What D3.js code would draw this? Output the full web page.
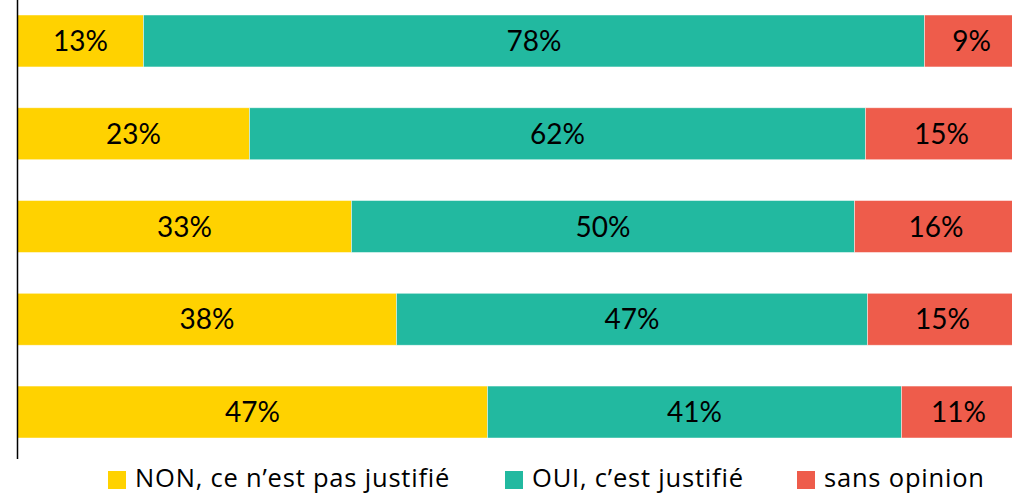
<!DOCTYPE html>
<html>
<head>
<meta charset="utf-8">
<script src="https://cdn.jsdelivr.net/npm/d3@7"></script>
<style>
  html, body { margin: 0; padding: 0; background: #fff; }
  svg { display: block; }
  text { font-family: Lato, "Open Sans", sans-serif; fill: #000; }
  .legend text { font-family: "Open Sans", Lato, sans-serif; letter-spacing: 0.8px; }
</style>
</head>
<body>
<div id="chart"></div>
<script>
// ---- data ----
const rows = ["r1", "r2", "r3", "r4", "r5"];
const seriesNames = ["NON, ce n\u2019est pas justifié", "OUI, c\u2019est justifié", "sans opinion"];
const nonValues  = [12.6, 23.2, 33.4, 37.9, 47.0];
const ouiValues  = [78.1, 61.6, 50.3, 47.1, 41.4];
const sansValues = [9.4, 15.2, 16.3, 15.0, 11.4];
const seriesColors = ["#FFD200", "#22B9A0", "#EE5C4B"];

const W = 1012, H = 494;
const svg = d3.select("#chart").append("svg").attr("width", W).attr("height", H);

const x = d3.scaleLinear().domain([0, 100]).range([17.5, 1017.5]);
const y = d3.scaleBand().domain(rows).range([-5.4, 458.4]).paddingInner(0.44).paddingOuter(0.22);

const table = rows.map((r, i) => ({ row: r, s0: nonValues[i], s1: ouiValues[i], s2: sansValues[i] }));
const stack = d3.stack().keys(["s0", "s1", "s2"])(table);

const g = svg.append("g");
stack.forEach((layer, li) => {
  const lg = g.append("g");
  lg.selectAll("rect").data(layer).join("rect")
    .attr("x", d => x(d[0]))
    .attr("y", d => y(d.data.row))
    .attr("width", d => x(d[1]) - x(d[0]))
    .attr("height", y.bandwidth())
    .attr("fill", seriesColors[li])
    .attr("stroke", "#ffffff")
    .attr("stroke-opacity", 0.6)
    .attr("stroke-width", 0.75);
  lg.selectAll("text").data(layer).join("text")
    .attr("x", d => (x(d[0]) + x(d[1])) / 2)
    .attr("y", d => y(d.data.row) + y.bandwidth() / 2 + 10)
    .attr("text-anchor", "middle")
    .attr("font-size", 28)
    .text(d => Math.round(d[1] - d[0]) + "%");
});

// axis line (left, no ticks)
const axis = d3.axisLeft(y).tickSize(0).tickFormat("");
svg.append("g").attr("transform", "translate(17,0)").call(axis)
  .call(s => s.select(".domain").attr("stroke", "#000").attr("stroke-width", 1.5));

// legend
const legendX = [108, 505, 797];
const legend = svg.append("g").attr("class", "legend");
seriesNames.forEach((name, i) => {
  const it = legend.append("g").attr("transform", `translate(${legendX[i]},0)`);
  it.append("rect").attr("x", 0).attr("y", 471).attr("width", 18).attr("height", 18).attr("fill", seriesColors[i]);
  it.append("text").attr("x", 27).attr("y", 487).attr("font-size", 25.5).text(name);
});
</script>
</body>
</html>
